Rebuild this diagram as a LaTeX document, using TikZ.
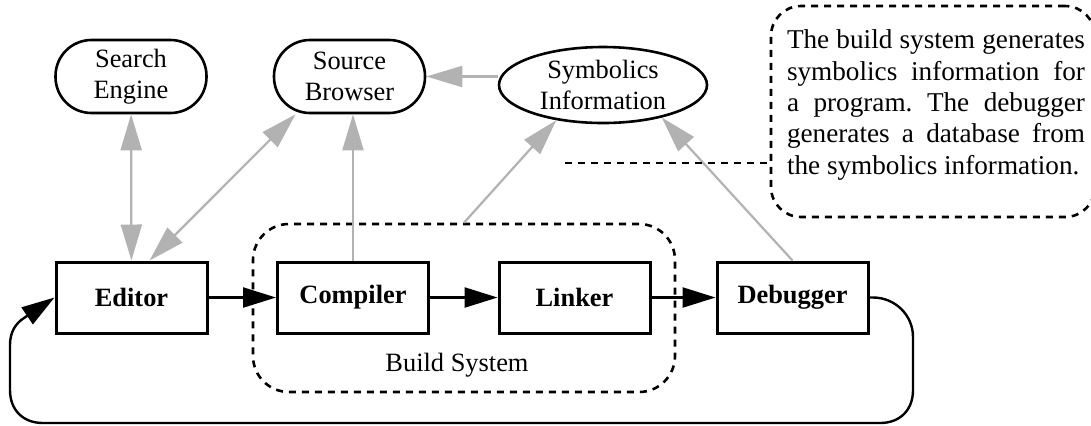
\documentclass[tikz,border=0pt]{standalone}
\usepackage{fontspec}
\setmainfont{Liberation Serif}
\usetikzlibrary{arrows.meta,shapes.geometric}
\definecolor{infogray}{gray}{0.7}
\frenchspacing

\begin{document}
\begin{tikzpicture}[x=0.5pt,y=-0.5pt,
    tool/.style={draw,line width=1.5pt,minimum width=75.5pt,minimum height=35.5pt,font=\fontsize{13.2}{15.5}\selectfont\bfseries},
    service/.style={draw,line width=1.3pt,rounded corners=18pt,minimum width=75.5pt,minimum height=36.5pt,align=center,font=\fontsize{13.2}{15.5}\selectfont},
    database/.style={draw,ellipse,line width=1.3pt,minimum width=104pt,minimum height=38pt,inner sep=0pt,align=center,font=\fontsize{13.2}{15.5}\selectfont},
    dotline/.style={line width=1.3pt,dash pattern=on 3.5pt off 3pt},
    group/.style={draw,dotline,rounded corners=18pt},
    flow/.style={line width=1.2pt,>={Triangle[length=16.5pt,width=10pt]},->},
    info/.style={draw=infogray,line width=1.1pt,>={Triangle[length=18pt,width=10.5pt]}}]
    \useasboundingbox (0,0) rectangle (1091,425);

    \node[group,minimum width=211pt,minimum height=84pt] (build) at (464,308) {};
    \node[font=\fontsize{13.2}{15.5}\selectfont] (buildlabel) at (457,365) {Build System};

    \node[group,rounded corners=15pt,minimum width=162pt,minimum height=105.5pt] (note) at (933,111.5) {};
    \node[text width=149pt,align=justify,inner sep=0pt,font=\fontsize{13.6}{15.7}\selectfont] (notetext) at (936,105)
        {The build system generates\linebreak symbolics information for\linebreak a program. The debugger\linebreak generates a database from\linebreak the symbolics information.};

    \node[service] (search) at (131,76.5) {Search\\Engine};
    \node[service] (browser) at (349.5,76.5) {Source\\Browser};
    \node[database] (symbolics) at (603,85) {Symbolics\\Information};

    \node[tool] (editor) at (131.5,297.5) {Editor};
    \node[tool] (compiler) at (353,297.5) {Compiler};
    \node[tool] (linker) at (574.5,297.5) {Linker};
    \node[tool] (debugger) at (792.5,297.5) {Debugger};

    \draw[flow] (editor) -- (compiler);
    \draw[flow] (compiler) -- (linker);
    \draw[flow] (linker) -- (debugger);
    \draw[flow] (debugger.east) -- (873,297.5) .. controls (895,297.5) and (913,315) .. (913,337) -- (913,390)
        .. controls (913,410) and (900,423) .. (880,423) -- (43,423) .. controls (23,423) and (10,410) .. (10,390)
        -- (10,345) .. controls (10,332) and (15.6,323.4) .. (24,318) -- (editor.west);

    \draw[info,<->] (search) -- (editor);
    \draw[info,<->] (editor.64) -- (browser.215);
    \draw[info,->] (compiler.north) -- (compiler.north |- browser.south);
    \draw[info,->] (browser.east -| symbolics.west) -- (browser.east);
    \draw[info,->] (build.north) -- (symbolics.217);
    \draw[info,->] (debugger.north) -- (symbolics.-29);

    \coordinate (pin) at (565,163);
    \draw[dotline] (pin) -- (pin -| note.west);
\end{tikzpicture}
\end{document}
